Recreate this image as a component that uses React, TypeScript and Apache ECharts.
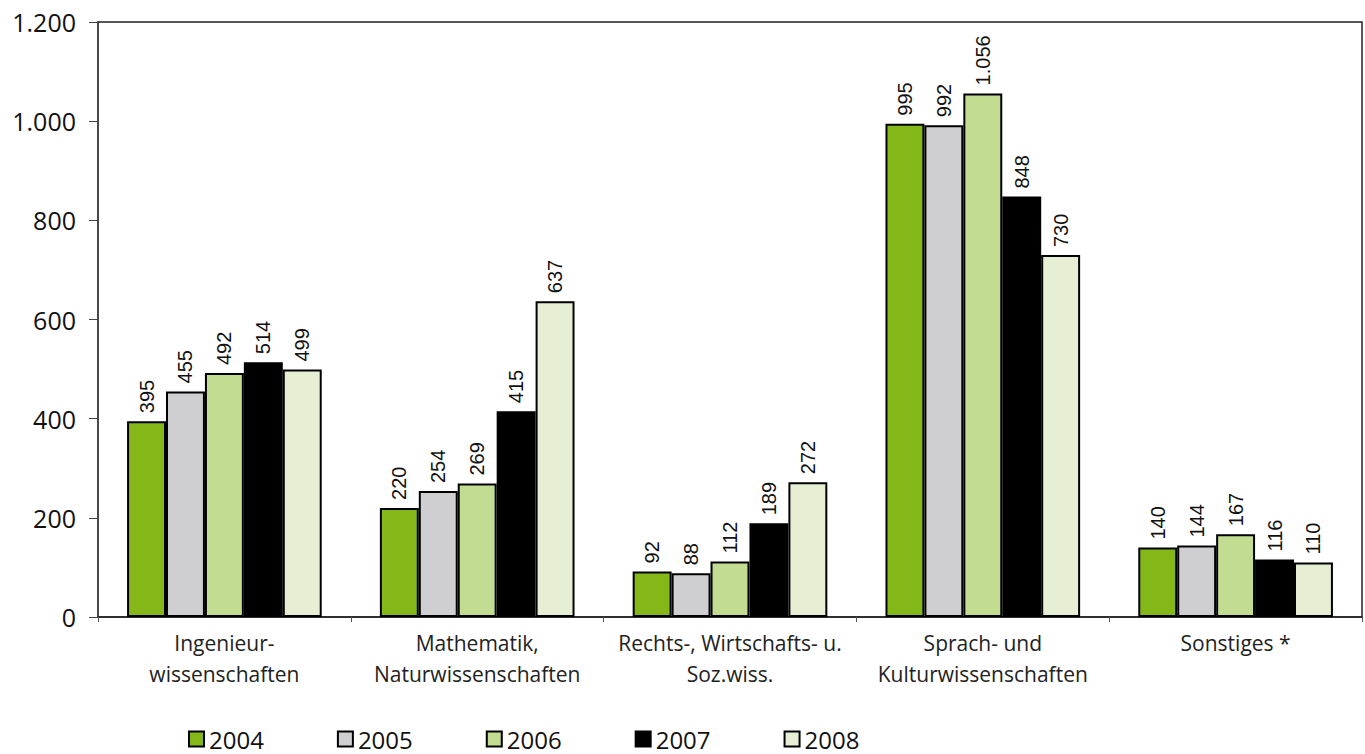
import React, { useEffect, useRef } from "react";
import * as echarts from "echarts";

const categories = [
  "Ingenieur-\nwissenschaften",
  "Mathematik,\nNaturwissenschaften",
  "Rechts-, Wirtschafts- u.\nSoz.wiss.",
  "Sprach- und\nKulturwissenschaften",
  "Sonstiges *",
];
const years = ["2004", "2005", "2006", "2007", "2008"];
const v2004 = [395, 220, 92, 995, 140];
const v2005 = [455, 254, 88, 992, 144];
const v2006 = [492, 269, 112, 1056, 167];
const v2007 = [514, 415, 189, 848, 116];
const v2008 = [499, 637, 272, 730, 110];
const seriesValues = [v2004, v2005, v2006, v2007, v2008];
const colors = ["#84b819", "#cfcfd1", "#c2dc91", "#000000", "#e6efd4"];
const yTicks = [0, 200, 400, 600, 800, 1000, 1200];

const fmt = (n: number) =>
  String(n).replace(/\B(?=(\d{3})+(?!\d))/g, ".");

export default function App() {
  const ref = useRef<HTMLDivElement>(null);
  useEffect(() => {
    if (!ref.current) return;
    const chart = echarts.init(ref.current, undefined, { renderer: "svg" });
    chart.setOption({
      animation: false,
      backgroundColor: "#ffffff",
      grid: {
        left: 98,
        right: 3,
        top: 22,
        bottom: 137,
        show: true,
        borderColor: "#222",
        borderWidth: 1.5,
        backgroundColor: "transparent",
      },
      legend: {
        data: years,
        left: 188,
        top: 727,
        padding: 0,
        itemWidth: 15,
        itemHeight: 15,
        itemGap: 73,
        icon: "rect",
        textStyle: { fontFamily: "Open Sans", fontSize: 24, color: "#111" },
      },
      xAxis: {
        type: "category",
        data: categories,
        axisLine: { lineStyle: { color: "#222", width: 1.5 } },
        axisTick: { show: true, length: 5, lineStyle: { color: "#555" } },
        axisLabel: {
          fontFamily: "Open Sans",
          fontSize: 21,
          color: "#222",
          lineHeight: 31,
          margin: 10,
          interval: 0,
        },
      },
      yAxis: {
        type: "value",
        min: yTicks[0],
        max: yTicks[yTicks.length - 1],
        interval: 200,
        splitLine: { show: false },
        axisLine: { show: true, lineStyle: { color: "#444", width: 1.5 } },
        axisTick: { show: true, length: 9, lineStyle: { color: "#444" } },
        axisLabel: {
          fontFamily: "Open Sans",
          fontSize: 25,
          color: "#111",
          margin: 22,
          formatter: (v: number) => fmt(v),
        },
      },
      series: years.map((y, i) => ({
        name: y,
        type: "bar",
        data: seriesValues[i],
        barGap: "0%",
        barCategoryGap: "23%",
        itemStyle: { color: colors[i], borderColor: "#000", borderWidth: 2 },
        label: {
          show: true,
          position: "top",
          rotate: 90,
          align: "left",
          verticalAlign: "middle",
          distance: 8,
          fontFamily: "Liberation Sans",
          fontSize: 20,
          color: "#111",
          formatter: (p: any) => fmt(p.value),
        },
      })),
    });
    return () => chart.dispose();
  }, []);
  return (
    <div
      ref={ref}
      style={{ position: "fixed", left: 0, top: 0, width: 1365, height: 754 }}
    />
  );
}
